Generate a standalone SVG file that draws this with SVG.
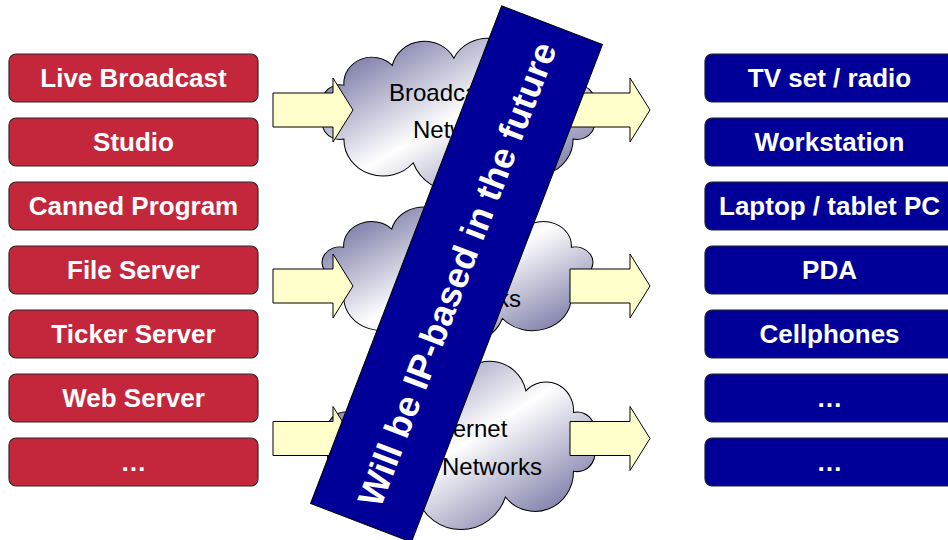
<svg xmlns="http://www.w3.org/2000/svg" xmlns:xlink="http://www.w3.org/1999/xlink" width="948" height="540" viewBox="0 0 948 540">
  <style>
    .src rect { fill: #C4263C; stroke: #2A2A2A; stroke-width: 1.2; }
    .dev rect { fill: #000099; stroke: #222222; stroke-width: 1.2; }
    .lbl { font-family: "Liberation Sans", Arial, sans-serif; font-weight: bold; font-size: 26px; fill: #FFFFFF; text-anchor: middle; }
    .cloud-shape { fill: url(#cloudFill); stroke: #000000; stroke-width: 1; }
    .cloud-txt { font-family: "Liberation Sans", Arial, sans-serif; font-size: 24px; fill: #000000; }
    .arrow { fill: #FFFFCC; stroke: #000000; stroke-width: 1; }
    .banner-txt { font-family: "Liberation Sans", Arial, sans-serif; font-weight: bold; font-size: 36px; fill: #FFFFFF; text-anchor: middle; }
  </style>
  <defs>
    <!-- mirrored diagonal shading: dark corners, white band across the middle -->
    <linearGradient id="cloudFill" x1="0" y1="0" x2="1" y2="1">
      <stop offset="0" stop-color="#55558F"/>
      <stop offset="0.5" stop-color="#FFFFFF"/>
      <stop offset="1" stop-color="#55558F"/>
    </linearGradient>
    <!-- cloud outline centred on the origin -->
    <path id="cloud" d="M -128 0
      A 17.4 17.4 0 0 1 -110.8 -28
      A 27.1 27.1 0 0 1 -64 -48.5
      A 31.8 31.8 0 0 1 -4.5 -56
      A 36.5 36.5 0 0 1 64 -48.5
      A 27.1 27.1 0 0 1 110.8 -28
      A 17.4 17.4 0 0 1 128 0
      A 17.4 17.4 0 0 1 110.8 28
      A 37.8 37.8 0 0 1 43.8 52.6
      A 46.4 46.4 0 0 1 -43.8 52.6
      A 37.8 37.8 0 0 1 -110.8 28
      A 17.4 17.4 0 0 1 -128 0 Z"/>
    <!-- block arrow, tail at the origin, pointing right -->
    <path id="blockArrow" d="M 0 -17 H 60 V -32 L 80 0 L 60 32 V 17 H 0 Z"/>
  </defs>

  <rect x="0" y="0" width="948" height="540" fill="#FFFFFF"/>

  <!-- content sources -->
  <g id="src-live" class="src"><rect x="9" y="54" width="249" height="48" rx="7"/><text class="lbl" x="133.5" y="87.3">Live Broadcast</text></g>
  <g id="src-studio" class="src"><rect x="9" y="118" width="249" height="48" rx="7"/><text class="lbl" x="133.5" y="151.3">Studio</text></g>
  <g id="src-canned" class="src"><rect x="9" y="182" width="249" height="48" rx="7"/><text class="lbl" x="133.5" y="215.3">Canned Program</text></g>
  <g id="src-file" class="src"><rect x="9" y="246" width="249" height="48" rx="7"/><text class="lbl" x="133.5" y="279.3">File Server</text></g>
  <g id="src-ticker" class="src"><rect x="9" y="310" width="249" height="48" rx="7"/><text class="lbl" x="133.5" y="343.3">Ticker Server</text></g>
  <g id="src-web" class="src"><rect x="9" y="374" width="249" height="48" rx="7"/><text class="lbl" x="133.5" y="407.3">Web Server</text></g>
  <g id="src-more" class="src"><rect x="9" y="438" width="249" height="48" rx="7"/><text class="lbl" x="133.5" y="471.3">…</text></g>

  <!-- end devices -->
  <g id="dev-tv" class="dev"><rect x="705" y="54" width="249" height="48" rx="7"/><text class="lbl" x="829.5" y="87.3">TV set / radio</text></g>
  <g id="dev-workstation" class="dev"><rect x="705" y="118" width="249" height="48" rx="7"/><text class="lbl" x="829.5" y="151.3">Workstation</text></g>
  <g id="dev-laptop" class="dev"><rect x="705" y="182" width="249" height="48" rx="7"/><text class="lbl" x="829.5" y="215.3">Laptop / tablet PC</text></g>
  <g id="dev-pda" class="dev"><rect x="705" y="246" width="249" height="48" rx="7"/><text class="lbl" x="829.5" y="279.3">PDA</text></g>
  <g id="dev-cell" class="dev"><rect x="705" y="310" width="249" height="48" rx="7"/><text class="lbl" x="829.5" y="343.3">Cellphones</text></g>
  <g id="dev-more1" class="dev"><rect x="705" y="374" width="249" height="48" rx="7"/><text class="lbl" x="829.5" y="407.3">…</text></g>
  <g id="dev-more2" class="dev"><rect x="705" y="438" width="249" height="48" rx="7"/><text class="lbl" x="829.5" y="471.3">…</text></g>

  <!-- delivery networks -->
  <g id="net-broadcast">
    <use xlink:href="#cloud" href="#cloud" class="cloud-shape" vector-effect="non-scaling-stroke" transform="translate(458.5 112.1) scale(1.034 0.963)"/>
    <text class="cloud-txt" x="389" y="101">Broadcast</text>
    <text class="cloud-txt" x="413" y="138">Networks</text>
  </g>
  <g id="net-middle">
    <use xlink:href="#cloud" href="#cloud" class="cloud-shape" vector-effect="non-scaling-stroke" transform="translate(457.5 272) scale(1.027 0.884)"/>
    <text class="cloud-txt" x="421" y="307">Networks</text>
  </g>
  <g id="net-internet">
    <use xlink:href="#cloud" href="#cloud" class="cloud-shape" vector-effect="non-scaling-stroke" transform="translate(461 441.8) scale(1.015 1.049)"/>
    <text class="cloud-txt" x="426" y="437">Internet</text>
    <text class="cloud-txt" x="442" y="475">Networks</text>
  </g>

  <!-- flow arrows into and out of the networks -->
  <g id="connectors">
    <use xlink:href="#blockArrow" href="#blockArrow" class="arrow" x="273" y="110"/>
    <use xlink:href="#blockArrow" href="#blockArrow" class="arrow" x="273" y="286"/>
    <use xlink:href="#blockArrow" href="#blockArrow" class="arrow" x="273" y="438.5"/>
    <use xlink:href="#blockArrow" href="#blockArrow" class="arrow" x="570" y="110"/>
    <use xlink:href="#blockArrow" href="#blockArrow" class="arrow" x="570" y="286"/>
    <use xlink:href="#blockArrow" href="#blockArrow" class="arrow" x="570" y="438.5"/>
  </g>

  <!-- slanted banner laid over the networks -->
  <g id="banner" transform="translate(456.5 274) rotate(-69)">
    <rect x="-266.5" y="-54" width="533" height="108" fill="#000099" stroke="#000000" stroke-width="1"/>
    <text class="banner-txt" x="0" y="13">Will be IP-based in the future</text>
  </g>
</svg>
